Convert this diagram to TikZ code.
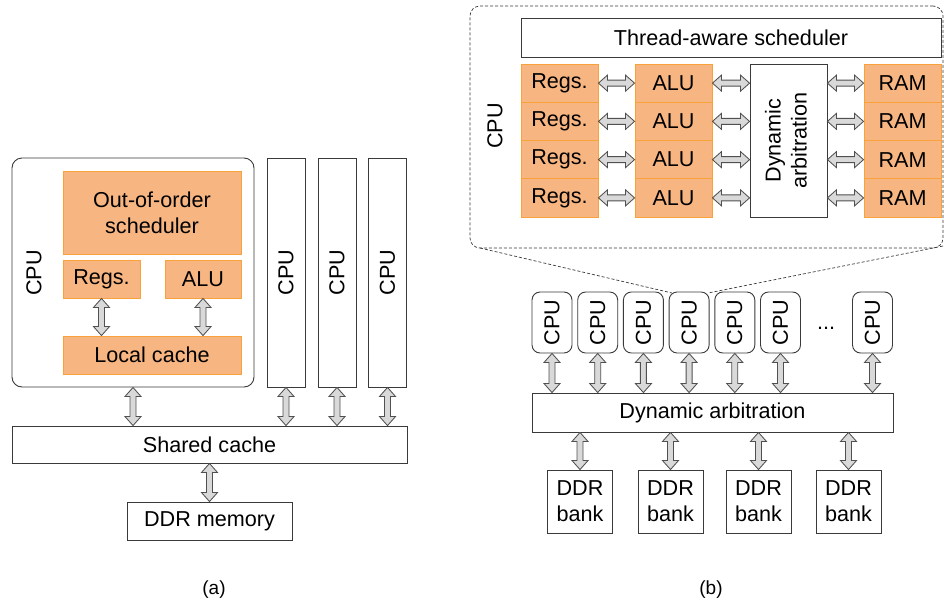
\documentclass[tikz,border=0pt]{standalone}
\usepackage{fontspec}
\setmainfont{Liberation Sans}
\usetikzlibrary{calc}
\definecolor{orfill}{HTML}{F7B582}
\definecolor{ordraw}{HTML}{F9A23C}
\definecolor{boxline}{HTML}{3A3A3A}
\definecolor{arrfill}{HTML}{D9D9D9}
\definecolor{arrline}{HTML}{505050}

% fat two-headed block arrow between two points
\newcommand\fatarrow[2]{%
  \draw[fatarr] let \p1=(#1), \p2=(#2) in
    (\p1) -- ($(\p1)!9pt!(\p2)!8pt!90:(\p2)$) -- ($(\p1)!9pt!(\p2)!3pt!90:(\p2)$)
    -- ($(\p2)!9pt!(\p1)!3pt!-90:(\p1)$) -- ($(\p2)!9pt!(\p1)!8pt!-90:(\p1)$)
    -- (\p2) -- ($(\p2)!9pt!(\p1)!8pt!90:(\p1)$) -- ($(\p2)!9pt!(\p1)!3pt!90:(\p1)$)
    -- ($(\p1)!9pt!(\p2)!3pt!-90:(\p2)$) -- ($(\p1)!9pt!(\p2)!8pt!-90:(\p2)$) -- cycle;}

\begin{document}
\begin{tikzpicture}[x=1pt,y=-1pt,
  font=\fontsize{21.6}{26}\selectfont,
  box/.style={draw=boxline, line width=0.9pt, fill=white, inner sep=0pt},
  obox/.style={draw=ordraw, line width=0.9pt, fill=orfill, inner sep=0pt},
  rbox/.style={box, rounded corners=10pt},
  sbox/.style={box, rounded corners=8pt, minimum width=40pt, minimum height=61pt},
  vlabel/.style={rotate=90, inner sep=0pt},
  fatarr/.style={draw=arrline, fill=arrfill, line width=0.85pt, line join=miter},
  callout/.style={draw=boxline, line width=0.7pt, dash pattern=on 3pt off 2pt},
  caption/.style={font=\fontsize{19}{22}\selectfont}]
\useasboundingbox (0,0) rectangle (944,605);

% ---------------- (a) conventional multicore ----------------
\node[rbox, minimum width=242pt, minimum height=229pt] (cpuA) at (133,272.5) {};
\node[vlabel] (cpuAlab) at (34,273) {CPU};
\node[obox, minimum width=178pt, minimum height=83pt, align=center] (ooo) at (152,212.5) {Out-of-order\\scheduler};
\node[obox, minimum width=77pt, minimum height=38pt] (regsA) at (101.5,279) {Regs.};
\node[obox, minimum width=76pt, minimum height=38pt] (aluA) at (203,279) {ALU};
\node[obox, minimum width=178pt, minimum height=38pt] (lcache) at (152,355) {Local cache};

\foreach \k/\x in {2/286,3/337,4/387.5}
  \node[box, minimum width=38pt, minimum height=229pt] (cpuA\k) at (\x,272.5) {\rotatebox{90}{CPU}};

\node[box, minimum width=395pt, minimum height=37pt] (shared) at (209.5,444.5) {Shared cache};
\node[box, minimum width=165pt, minimum height=38pt] (ddrmem) at (209.5,521) {DDR memory};

\fatarrow{regsA.south}{regsA.south |- lcache.north}
\fatarrow{aluA.south}{aluA.south |- lcache.north}
\fatarrow{cpuA.south}{cpuA.south |- shared.north}
\foreach \k in {2,3,4} {
  \fatarrow{cpuA\k.south}{cpuA\k.south |- shared.north}
}
\fatarrow{shared.south}{ddrmem.north}

\node[caption] (capA) at (214,590) {(a)};

% ---------------- (b) many simple cores ----------------
\node[callout, rounded corners=10pt, minimum width=473pt, minimum height=242pt, inner sep=0pt] (zoombox) at (706.5,127) {};
\node[vlabel] (cpuBlab) at (495,126) {CPU};
\node[box, minimum width=420pt, minimum height=39pt] (tas) at (731,37.5) {Thread-aware scheduler};
\node[box, minimum width=77pt, minimum height=153pt, align=center] (dyn) at (788.5,140.5)
  {\rotatebox{90}{\begin{tabular}{@{}c@{}}Dynamic\\arbitration\end{tabular}}};

\foreach \i in {1,...,4} {
  \pgfmathsetmacro\yy{64+38.25*(\i-0.5)}
  \node[obox, minimum width=77pt, minimum height=38.25pt] (regs\i) at (559.5,\yy) {Regs.};
  \node[obox, minimum width=77pt, minimum height=38.25pt] (alu\i) at (673.5,\yy) {ALU};
  \node[obox, minimum width=77pt, minimum height=38.25pt] (ram\i) at (902.5,\yy) {RAM};
}
\foreach \i in {1,...,4} {
  \fatarrow{regs\i.east}{alu\i.west}
  \fatarrow{alu\i.east}{alu\i.east -| dyn.west}
  \fatarrow{ram\i.west -| dyn.east}{ram\i.west}
}

\foreach \k/\x in {1/552,2/597.7,3/643.4,4/689.1,5/734.8,6/780.5,7/872.5}
  \node[sbox] (cpuB\k) at (\x,322.5) {\rotatebox{90}{CPU}};
\node[anchor=base, inner sep=0pt] (dots) at (826,329) {...};

\coordinate (zl) at (480,248);
\coordinate (zr) at (943,246);
\coordinate (tl) at (672,293);
\coordinate (tr) at (708,293);
\draw[callout] (zl) -- (tl);
\draw[callout] (zr) -- (tr);

\node[box, minimum width=361pt, minimum height=39pt] (arbbar) at (712.5,412.5) {Dynamic arbitration};
\foreach \k in {1,...,7} {
  \fatarrow{cpuB\k.south}{cpuB\k.south |- arbbar.north}
}

\foreach \k/\x in {1/580,2/670.5,3/758.5,4/848.5}
  \node[box, minimum width=65pt, minimum height=63pt, align=center] (bank\k) at (\x,501.5) {DDR\\bank};
\foreach \k in {1,...,4} {
  \fatarrow{bank\k.north |- arbbar.south}{bank\k.north}
}

\node[caption] (capB) at (711,590) {(b)};
\end{tikzpicture}
\end{document}
